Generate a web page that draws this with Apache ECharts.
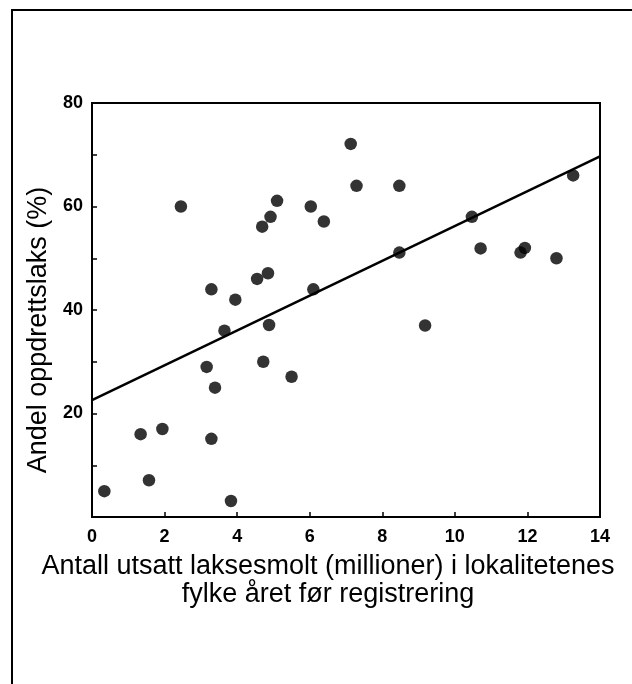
<!DOCTYPE html>
<html>
<head>
<meta charset="utf-8">
<script src="https://cdn.jsdelivr.net/npm/echarts@6/dist/echarts.min.js"></script>
<style>
  html, body { margin: 0; padding: 0; background: #fff; }
  #viz { width: 632px; height: 684px; }
</style>
</head>
<body>
<div id="viz"></div>
<script>
// utsatt smolt (millioner) per punkt
var smoltX = [0.34, 1.34, 1.57, 1.94, 2.45, 3.16, 3.29, 3.29, 3.39, 3.65, 3.83, 3.95,
              4.55, 4.69, 4.72, 4.85, 4.88, 4.92, 5.10, 5.50, 6.03, 6.10, 6.39, 7.13,
              7.29, 8.47, 8.47, 9.18, 10.47, 10.71, 11.81, 11.93, 12.80, 13.26];
// andel oppdrettslaks (%)
var andelY = [5.0, 16.0, 7.1, 17.0, 60.0, 29.0, 44.0, 15.1, 25.0, 36.0, 3.1, 42.0,
              46.0, 56.1, 30.0, 47.1, 37.1, 58.0, 61.1, 27.1, 60.0, 44.0, 57.1, 72.1,
              64.0, 64.0, 51.1, 37.0, 58.0, 51.9, 51.1, 52.0, 50.0, 66.0];
// regresjonslinje, endepunkter
var lineX = [0, 14];
var lineY = [22.6, 69.7];

var xTitle = 'Antall utsatt laksesmolt (millioner) i lokalitetenes\nfylke året før registrering';
var yTitle = 'Andel oppdrettslaks (%)';

function pairs(xs, ys) {
  var out = [];
  for (var i = 0; i < xs.length; i++) {
    out.push([xs[i], ys[i]]);
  }
  return out;
}

var font = '"Liberation Sans", Arial, Helvetica, sans-serif';
var chart = echarts.init(document.getElementById('viz'), null, { renderer: 'canvas' });

var option = {
  animation: false,
  backgroundColor: '#fff',
  grid: {
    left: 92, top: 103, width: 508, height: 414,
    show: true, borderColor: '#000', borderWidth: 2,
    containLabel: false, outerBoundsMode: 'none'
  },
  // ramme rundt figuren (bare venstre og topp)
  graphic: [{
    type: 'polyline',
    shape: { points: [[12, 684], [12, 10], [632, 10]] },
    style: { stroke: '#000', lineWidth: 2, fill: null }
  }],
  xAxis: {
    type: 'value', min: 0, max: 14, interval: 2,
    name: xTitle, nameLocation: 'middle', nameGap: 36,
    nameTextStyle: {
      color: '#000', fontFamily: font, fontSize: 27, lineHeight: 28,
      padding: [0, 36, 0, 0]
    },
    axisLine: { lineStyle: { color: '#000', width: 2 } },
    axisTick: { inside: true, length: 5, lineStyle: { color: '#000', width: 1.5 } },
    axisLabel: { color: '#000', fontFamily: font, fontWeight: 'bold', fontSize: 18, margin: 11 },
    splitLine: { show: false }
  },
  yAxis: {
    type: 'value', min: 0, max: 80, interval: 10,
    name: yTitle, nameLocation: 'middle', nameGap: 30,
    nameTextStyle: {
      color: '#000', fontFamily: font, fontSize: 27,
      padding: [0, 40, 0, 0]
    },
    axisLine: { lineStyle: { color: '#000', width: 2 } },
    axisTick: { inside: true, length: 5, lineStyle: { color: '#000', width: 1.5 } },
    axisLabel: {
      color: '#000', fontFamily: font, fontWeight: 'bold', fontSize: 18, margin: 9,
      formatter: function (v) { return (v > 0 && v % 20 === 0) ? String(v) : ''; }
    },
    splitLine: { show: false }
  },
  series: [{
    type: 'scatter',
    symbol: 'circle',
    symbolSize: 12.5,
    itemStyle: { color: '#000' },
    data: pairs(smoltX, andelY)
  }, {
    type: 'line',
    showSymbol: false,
    lineStyle: { color: '#000', width: 2.5 },
    data: pairs(lineX, lineY)
  }]
};

chart.setOption(option);
</script>
</body>
</html>
